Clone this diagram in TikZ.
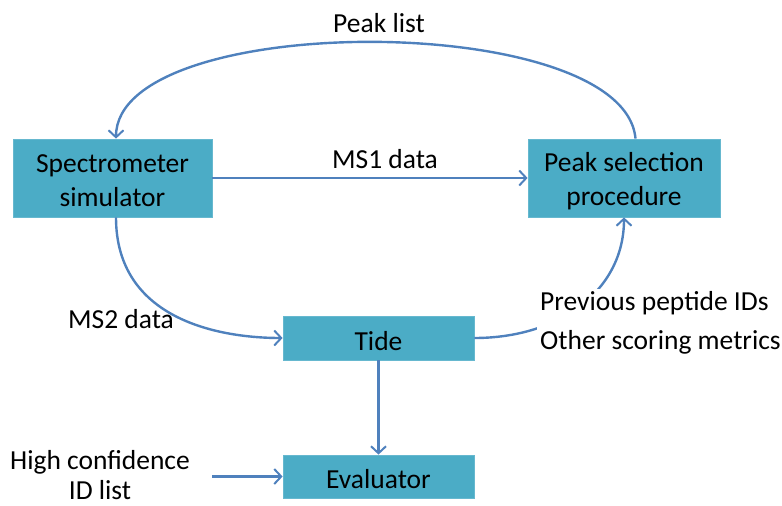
\documentclass[tikz,border=0pt]{standalone}
\usepackage{fontspec}
\setmainfont{Carlito}
\usetikzlibrary{arrows.meta}
\definecolor{boxfill}{HTML}{4BACC6}
\definecolor{arrowc}{HTML}{4F81BD}
\begin{document}
\begin{tikzpicture}[x=1pt,y=-1pt,
  box/.style={draw=boxfill!85!white,line width=0.8pt,fill=boxfill,inner sep=0pt},
  boxtext/.style={inner sep=0pt,align=center,yshift=-3pt,font=\fontsize{27.5}{34}\selectfont},
  lbl/.style={inner sep=0pt,font=\fontsize{27.5}{34}\selectfont},
  conn/.style={draw=arrowc,line width=2.4pt,-{Straight Barb[length=7pt,width=15pt,line width=2pt]}}]
\useasboundingbox (0,0) rectangle (782,506);
\node[box,minimum width=199pt,minimum height=78pt,label={[boxtext]center:Spectrometer\\simulator}] (spec) at (112.5,178) {};
\node[box,minimum width=192pt,minimum height=78pt,label={[boxtext]center:Peak selection\\procedure}] (peak) at (624,178) {};
\node[box,minimum width=191pt,minimum height=44pt,label={[boxtext]center:Tide}] (tide) at (378.5,338) {};
\node[box,minimum width=191pt,minimum height=43pt,label={[boxtext]center:Evaluator}] (eval) at (378.5,476.5) {};
\node[lbl] (pl) at (379,23) {Peak list};
\node[lbl] (ms1) at (385,159) {MS1 data};
\node[lbl] (ms2) at (121,319) {MS2 data};
\node[lbl,align=center,font=\fontsize{27.5}{30}\selectfont] (hc) at (100,475) {High confidence\\ID list};
% connectors
\draw[conn] ([xshift=11.5pt]peak.north) .. controls (624,10) and (116,10) .. ([xshift=3.5pt]spec.north);
\draw[conn] (spec.east) -- (peak.west);
\draw[conn] ([xshift=3.5pt]spec.south) .. controls (116,320) and (220,338) .. (tide.west);
\draw[conn] (tide.east) .. controls (560,338) and (624,290) .. (peak.south);
\draw[conn] (tide.south) -- (eval.north);
\coordinate (hcend) at (212,476.5);
\draw[conn] (hcend) -- (eval.west);
\node[lbl,anchor=west,align=left,fill=white,inner sep=3pt,font=\fontsize{27.5}{39}\selectfont] (prev) at (537,323) {Previous peptide IDs\\Other scoring metrics};
\end{tikzpicture}
\end{document}
